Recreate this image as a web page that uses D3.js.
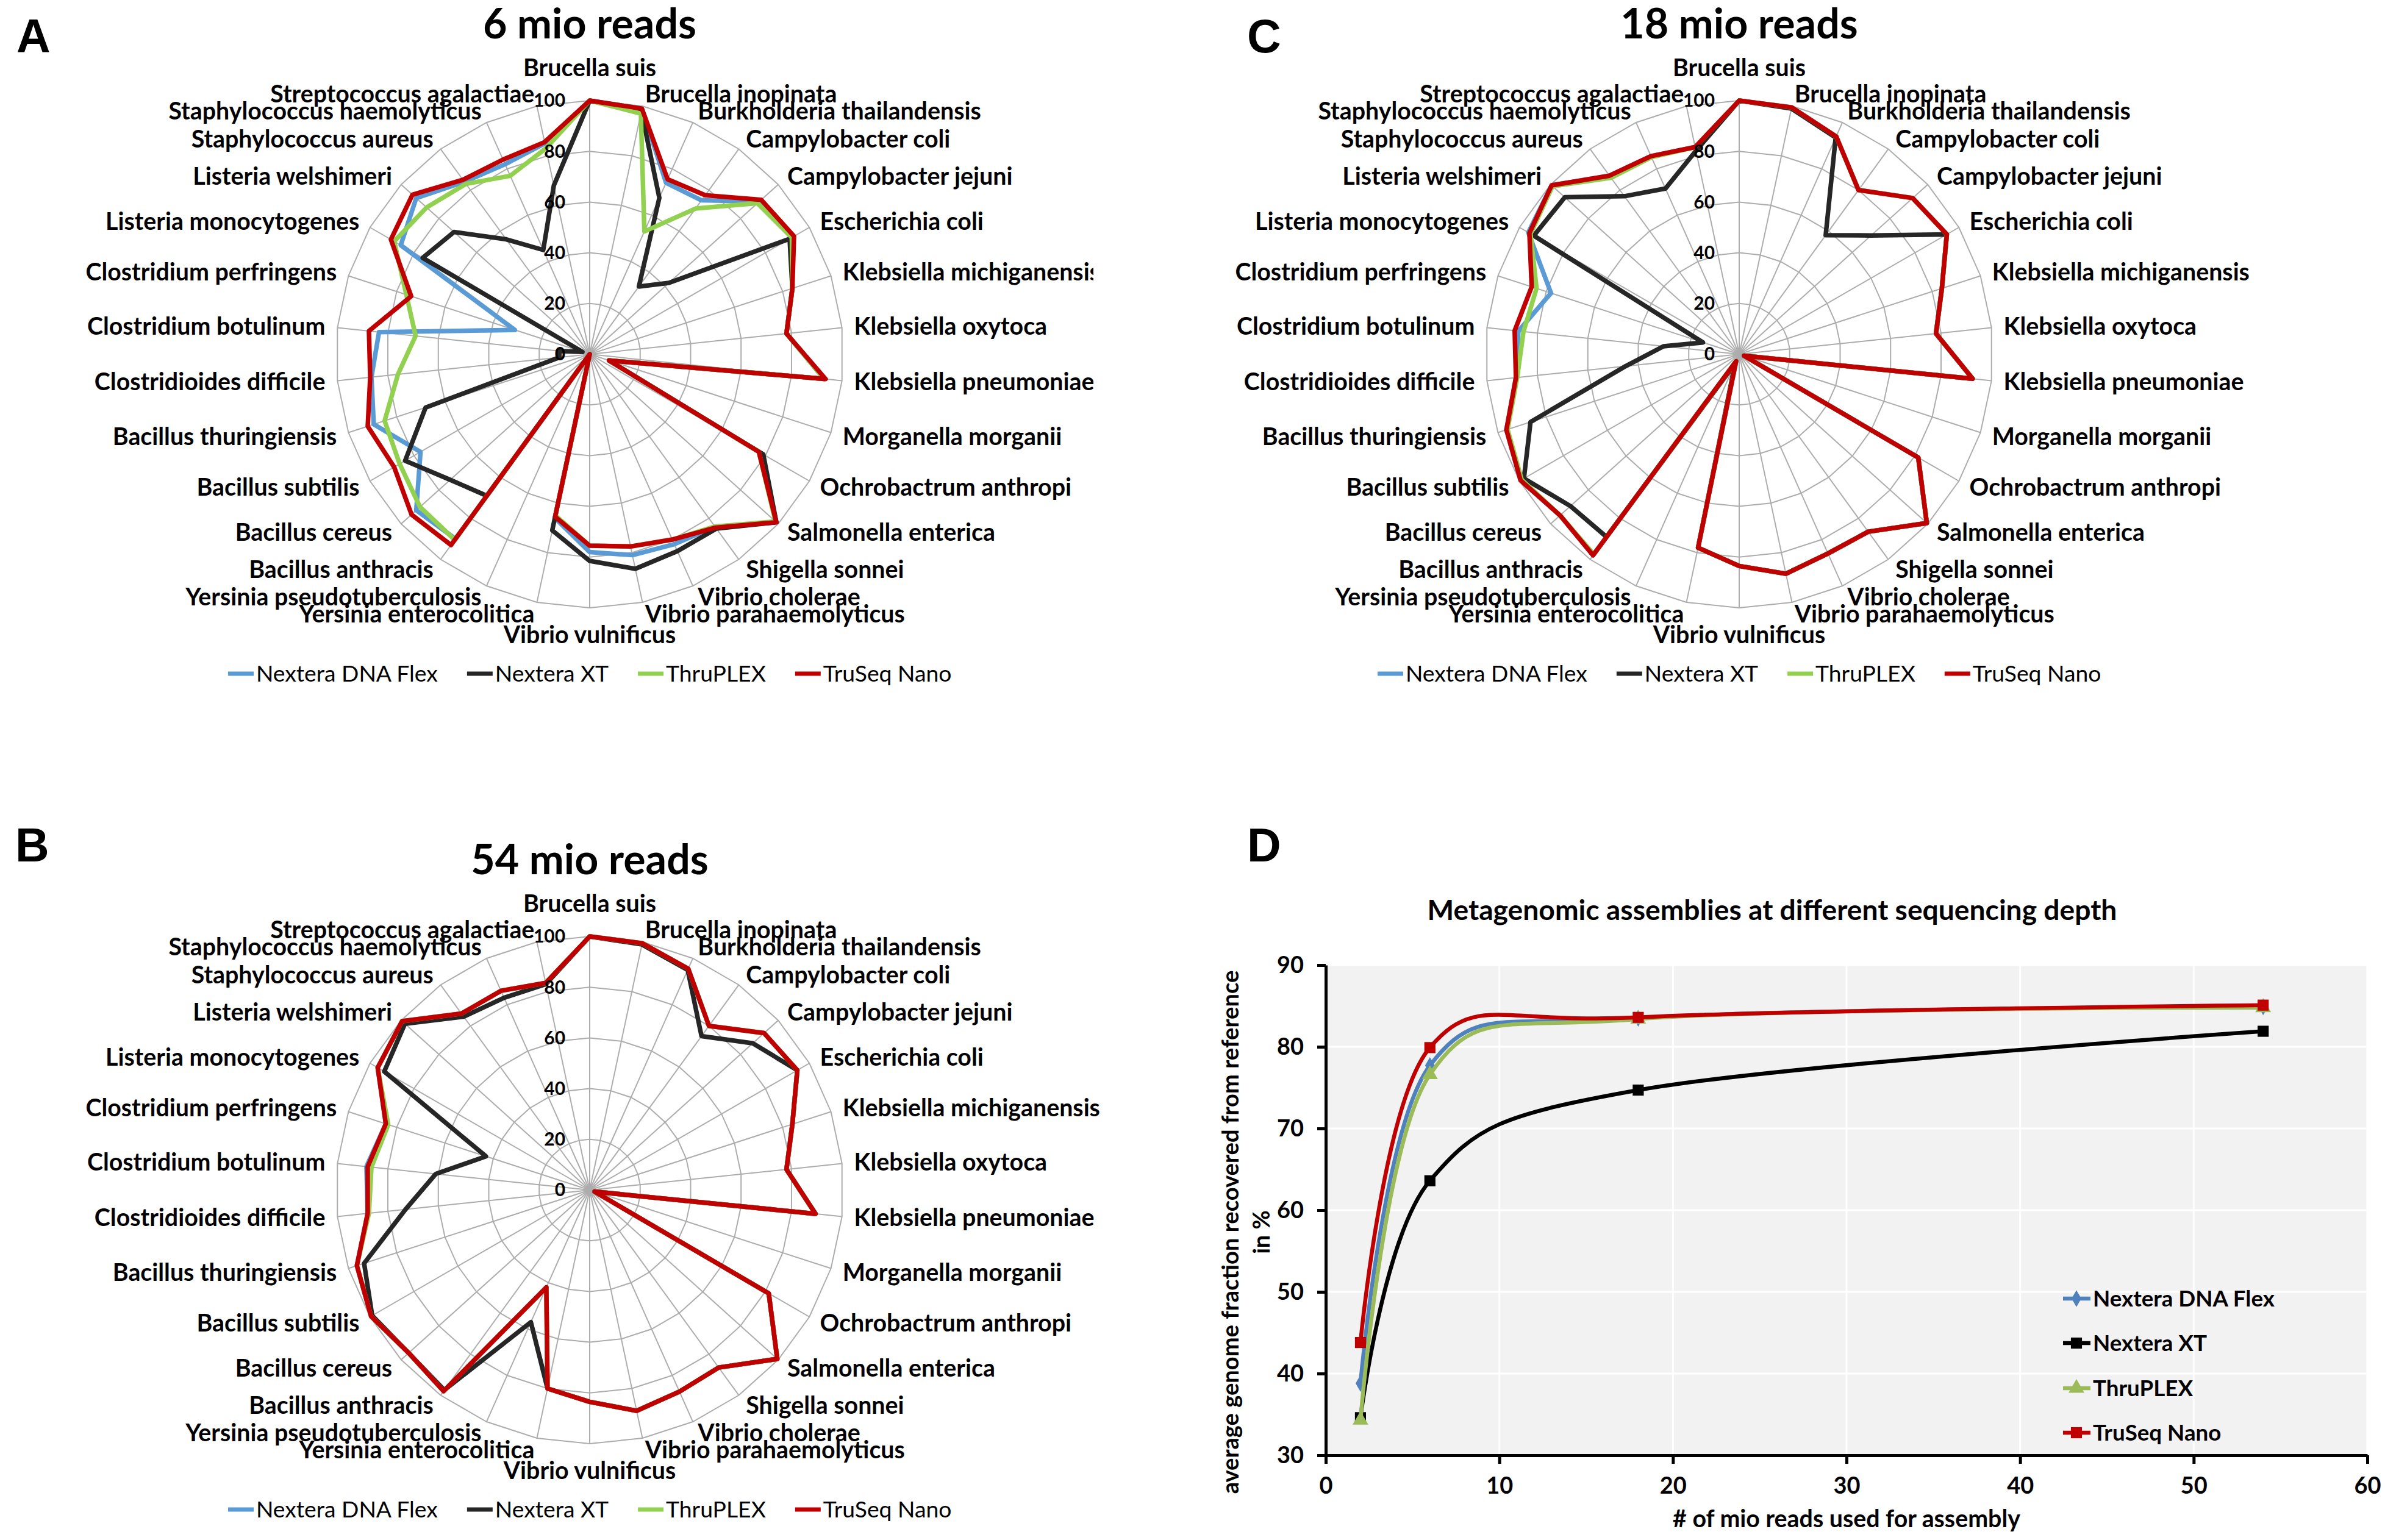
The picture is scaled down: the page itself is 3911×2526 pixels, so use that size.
<!DOCTYPE html>
<html>
<head>
<meta charset="utf-8">
<script src="https://cdn.jsdelivr.net/npm/d3@7"></script>
<style>
  body { margin: 0; background: #fff; }
</style>
</head>
<body>
<script>
// species on the radar axes, clockwise from the top
var categories = ["Brucella suis", "Brucella inopinata", "Burkholderia thailandensis", "Campylobacter coli",
  "Campylobacter jejuni", "Escherichia coli", "Klebsiella michiganensis", "Klebsiella oxytoca",
  "Klebsiella pneumoniae", "Morganella morganii", "Ochrobactrum anthropi", "Salmonella enterica",
  "Shigella sonnei", "Vibrio cholerae", "Vibrio parahaemolyticus", "Vibrio vulnificus",
  "Yersinia enterocolitica", "Yersinia pseudotuberculosis", "Bacillus anthracis", "Bacillus cereus",
  "Bacillus subtilis", "Bacillus thuringiensis", "Clostridioides difficile", "Clostridium botulinum",
  "Clostridium perfringens", "Listeria monocytogenes", "Listeria welshimeri", "Staphylococcus aureus",
  "Staphylococcus haemolyticus", "Streptococcus agalactiae"];

var seriesNames = ["Nextera DNA Flex", "Nextera XT", "ThruPLEX", "TruSeq Nano"];
var radialTicks = [0, 20, 40, 60, 80, 100];

// 6 mio reads
var flex6   = [100, 99, 74, 75, 90, 92, 84, 78, 93, 8, 77, 99, 84, 82, 81, 78, 66, 0, 90, 92, 77, 89.5, 86.5, 83.5, 31, 86, 92, 84, 82, 85];
var xt6     = [100, 98, 67.5, 33, 42, 91, 84, 78, 93, 8, 79, 99, 85, 85, 86.5, 81.5, 71, 0, 69, 74, 84, 68, 12, 12, 3, 76, 72, 56, 45, 68];
var thru6   = [100, 97, 53, 71, 89, 92, 84, 78, 93, 8, 77, 98.5, 84, 80, 77.5, 75.5, 65, 0, 90.5, 90, 86.5, 85, 76, 69, 76, 89, 86.5, 83, 77, 83];
var truseq6 = [100, 99, 75.5, 77.5, 91, 93, 84, 78, 93.5, 8, 77, 99, 84.5, 80, 77.5, 75.5, 65.5, 0, 93, 94.5, 89, 92, 87, 87.5, 74, 90.5, 94, 85, 84, 85.5];

// 18 mio reads
var flex18   = [100, 99.5, 94, 80, 92, 94.5, 84, 78, 92.5, 2, 81.5, 99.5, 86.5, 86, 88.5, 83.5, 78, 3, 98, 95, 99.5, 96.5, 88.5, 87.5, 78, 96, 99.5, 87, 85.5, 83.5];
var xt18     = [100, 99, 93.5, 58, 70, 94.5, 84, 78, 92.5, 2, 81.5, 99.5, 86.5, 86, 88.5, 83.5, 78, 4, 89, 89.5, 98, 86.5, 45, 30, 15, 93.5, 92.5, 77, 71.5, 82];
var thru18   = [100, 99.5, 94, 80, 92, 94.5, 84, 78, 92.5, 2, 81.5, 99.5, 86.5, 86, 88.5, 83.5, 78, 3, 97.5, 95, 99, 96, 88, 85.5, 84, 95, 99, 86, 85, 83.5];
var truseq18 = [100, 99.5, 94, 80, 92, 94.5, 84, 78, 92.5, 2, 81.5, 99.5, 86.5, 86, 88.5, 83.5, 78, 3, 98, 95, 99.5, 96.5, 88.5, 89, 86, 95.5, 99.5, 87, 85.5, 83.5];

// 54 mio reads
var flex54   = [100, 99.5, 95.5, 80, 92.5, 94.5, 84, 78, 89.5, 2, 81.5, 99.5, 86.5, 87, 89, 83.5, 80, 42, 98, 96, 99.5, 96.5, 88, 88.5, 84.5, 96.5, 99.5, 86, 86, 83.5];
var xt54     = [100, 99, 95, 75, 86.5, 94.5, 84, 78, 89.5, 2, 81.5, 99.5, 86.5, 87, 89, 83.5, 80, 57, 97.5, 96, 99, 93.5, 73, 61, 43, 93.5, 98, 84.5, 83, 83];
var thru54   = [100, 99.5, 95.5, 80, 92.5, 94.5, 84, 78, 89.5, 2, 81.5, 99.5, 86.5, 87, 89, 83.5, 80, 42, 98, 96, 99.5, 96.5, 87.5, 86.5, 83.5, 96.5, 99.5, 86, 86, 83.5];
var truseq54 = [100, 99.5, 95.5, 80, 92.5, 94.5, 84, 78, 89.5, 2, 81.5, 99.5, 86.5, 87, 89, 83.5, 80, 42, 98, 96, 99.5, 96.5, 88, 88, 84.5, 96.5, 99.5, 86, 86, 83.5];

// panel D: genome fraction vs sequencing depth
var depthReads   = [2, 6, 18, 54];
var flexDepth    = [38.8, 77.7, 83.5, 84.9];
var xtDepth      = [34.6, 63.6, 74.7, 81.9];
var thruDepth    = [34.3, 76.6, 83.4, 84.8];
var truseqDepth  = [43.8, 79.9, 83.6, 85.1];
var depthTicksX  = [0, 10, 20, 30, 40, 50, 60];
var depthTicksY  = [30, 40, 50, 60, 70, 80, 90];

var radarColors = ["#5b9bd5", "#262626", "#92d050", "#c00000"];
var lineColors  = ["#4f81bd", "#000000", "#9bbb59", "#c00000"];
var symbols     = [d3.symbolDiamond, d3.symbolSquare, d3.symbolTriangle, d3.symbolSquare];
var symbolSizes = [220, 330, 290, 330];

var FONT = "Lato, 'Open Sans', sans-serif";

var svg = d3.select("body").append("svg")
  .attr("width", 3911)
  .attr("height", 2526)
  .style("display", "block");

svg.append("rect").attr("width", 3911).attr("height", 2526).attr("fill", "#fff");

// pick a font size so a reference string gets the width it has in the figure
function fitSize(text, weight, target) {
  var t = svg.append("text")
    .attr("font-family", FONT)
    .attr("font-weight", weight)
    .attr("font-size", 100)
    .text(text);
  var w = t.node().getComputedTextLength();
  t.remove();
  return 100 * target / w;
}

var labelSize   = fitSize("Klebsiella pneumoniae", "bold", 394);
var rTickSize   = fitSize("100", "bold", 52);
var titleSize   = fitSize("6 mio reads", "bold", 350);
var legendSize  = fitSize("Nextera DNA Flex", "normal", 298);

svg.append("defs").append("clipPath").attr("id", "clipA")
  .append("rect").attr("x", 0).attr("y", 0).attr("width", 1793).attr("height", 1300);

function drawRadar(cx, cy, title, data, clip) {
  var g = svg.append("g");
  if (clip) g.attr("clip-path", "url(#" + clip + ")");

  var r = d3.scaleLinear().domain([0, 100]).range([0, 416]);
  var a = d3.scaleLinear().domain([0, categories.length]).range([0, 2 * Math.PI]);
  var inner = g.append("g").attr("transform", "translate(" + cx + "," + cy + ")");

  // grid rings
  inner.selectAll("path.ring")
    .data(radialTicks.slice(1))
    .join("path")
      .attr("class", "ring")
      .attr("d", function(t) {
        return d3.lineRadial()
          .angle(function(d, i) { return a(i); })
          .radius(r(t))
          .curve(d3.curveLinearClosed)(categories);
      })
      .attr("fill", "none")
      .attr("stroke", "#adadad")
      .attr("stroke-width", 2);

  // spokes
  inner.selectAll("line.spoke")
    .data(categories)
    .join("line")
      .attr("class", "spoke")
      .attr("x1", 0).attr("y1", 0)
      .attr("x2", function(d, i) { return r(100) * Math.sin(a(i)); })
      .attr("y2", function(d, i) { return -r(100) * Math.cos(a(i)); })
      .attr("stroke", "#adadad")
      .attr("stroke-width", 2);

  // series
  var radial = d3.lineRadial()
    .angle(function(d, i) { return a(i); })
    .radius(function(d) { return r(d); })
    .curve(d3.curveLinearClosed);

  data.forEach(function(vals, s) {
    inner.append("path")
      .attr("d", radial(vals))
      .attr("fill", "none")
      .attr("stroke", radarColors[s])
      .attr("stroke-width", 7.5)
      .attr("stroke-linejoin", "round");
  });

  // radial value labels
  inner.selectAll("text.rtick")
    .data(radialTicks)
    .join("text")
      .attr("class", "rtick")
      .attr("x", -40)
      .attr("y", function(d) { return -r(d); })
      .attr("dy", "0.35em")
      .attr("text-anchor", "end")
      .attr("font-family", FONT)
      .attr("font-weight", "bold")
      .attr("font-size", rTickSize)
      .text(function(d) { return d; });

  // category labels
  var L = 436;
  inner.selectAll("text.cat")
    .data(categories)
    .join("text")
      .attr("class", "cat")
      .each(function(d, i) {
        var th = a(i), sn = Math.sin(th), cs = Math.cos(th);
        var t = d3.select(this);
        if (Math.abs(sn) < 1e-6) {
          t.attr("x", 0)
           .attr("y", cs > 0 ? -L - 20 : L + 38)
           .attr("text-anchor", "middle");
        } else {
          t.attr("x", L * sn)
           .attr("y", -L * cs)
           .attr("dy", "0.35em")
           .attr("text-anchor", sn > 0 ? "start" : "end");
        }
      })
      .attr("font-family", FONT)
      .attr("font-weight", "bold")
      .attr("font-size", labelSize)
      .text(function(d) { return d; });

  // title
  g.append("text")
    .attr("x", cx)
    .attr("y", cy - 518)
    .attr("text-anchor", "middle")
    .attr("font-family", FONT)
    .attr("font-weight", "bold")
    .attr("font-size", titleSize)
    .text(title);

  // legend
  var lx = cx - 593, ly = cy + 524;
  seriesNames.forEach(function(name, s) {
    g.append("line")
      .attr("x1", lx).attr("x2", lx + 42)
      .attr("y1", ly).attr("y2", ly)
      .attr("stroke", radarColors[s])
      .attr("stroke-width", 7);
    var t = g.append("text")
      .attr("x", lx + 46)
      .attr("y", ly)
      .attr("dy", "0.35em")
      .attr("font-family", FONT)
      .attr("font-size", legendSize)
      .text(name);
    lx += 46 + t.node().getComputedTextLength() + 48;
  });
}

drawRadar(967, 581, "6 mio reads", [flex6, xt6, thru6, truseq6], "clipA");
drawRadar(2852, 581, "18 mio reads", [flex18, xt18, thru18, truseq18]);
drawRadar(967, 1952, "54 mio reads", [flex54, xt54, thru54, truseq54]);

// panel letters
[["A", 27, 86], ["C", 2045, 86], ["B", 25, 1413], ["D", 2045, 1413]].forEach(function(p) {
  svg.append("text")
    .attr("x", p[1]).attr("y", p[2])
    .attr("font-family", "'Liberation Sans', Arial, sans-serif")
    .attr("font-weight", "bold")
    .attr("font-size", 77)
    .text(p[0]);
});

// ---- panel D ----
var x = d3.scaleLinear().domain([0, 60]).range([2174, 3882]);
var y = d3.scaleLinear().domain([30, 90]).range([2387, 1583]);

var dTitleSize  = fitSize("Metagenomic assemblies at different sequencing depth", "bold", 1131);
var dTickSize   = fitSize("90", "bold", 44);
var dXTitleSize = fitSize("# of mio reads used for assembly", "bold", 570);
var dYTitleSize = fitSize("average genome fraction recovered from reference", "bold", 859);
var dLegendSize = fitSize("Nextera DNA Flex", "bold", 298);

var d = svg.append("g");

d.append("rect")
  .attr("x", x(0)).attr("y", y(90))
  .attr("width", x(60) - x(0)).attr("height", y(30) - y(90))
  .attr("fill", "#f2f2f2");

d.selectAll("line.hgrid")
  .data(depthTicksY.slice(1))
  .join("line")
    .attr("x1", x(0)).attr("x2", x(60))
    .attr("y1", function(v) { return y(v); }).attr("y2", function(v) { return y(v); })
    .attr("stroke", "#fff").attr("stroke-width", 3);

d.selectAll("line.vgrid")
  .data(depthTicksX.slice(1))
  .join("line")
    .attr("y1", y(30)).attr("y2", y(90))
    .attr("x1", function(v) { return x(v); }).attr("x2", function(v) { return x(v); })
    .attr("stroke", "#fff").attr("stroke-width", 3);

var yAxis = d.append("g")
  .attr("transform", "translate(" + x(0) + ",0)")
  .call(d3.axisLeft(y).tickValues(depthTicksY).tickSize(14).tickSizeOuter(0).tickPadding(22));
var xAxis = d.append("g")
  .attr("transform", "translate(0," + y(30) + ")")
  .call(d3.axisBottom(x).tickValues(depthTicksX).tickSize(14).tickSizeOuter(0).tickPadding(22));

[yAxis, xAxis].forEach(function(ax) {
  ax.select(".domain").attr("stroke", "#000").attr("stroke-width", 5);
  ax.selectAll(".tick line").attr("stroke", "#000").attr("stroke-width", 5);
  ax.selectAll(".tick text")
    .attr("font-family", FONT)
    .attr("font-weight", "bold")
    .attr("font-size", dTickSize)
    .attr("fill", "#000");
});

var curve = d3.line()
  .x(function(v, i) { return x(depthReads[i]); })
  .y(function(v) { return y(v); })
  .curve(d3.curveCatmullRom.alpha(0));

[flexDepth, xtDepth, thruDepth, truseqDepth].forEach(function(vals, s) {
  d.append("path")
    .attr("d", curve(vals))
    .attr("fill", "none")
    .attr("stroke", lineColors[s])
    .attr("stroke-width", 6.5);
  d.selectAll("path.m" + s)
    .data(vals)
    .join("path")
      .attr("class", "m" + s)
      .attr("transform", function(v, i) { return "translate(" + x(depthReads[i]) + "," + y(v) + ")"; })
      .attr("d", d3.symbol().type(symbols[s]).size(symbolSizes[s]))
      .attr("fill", lineColors[s]);
});

// legend inside plot
var legY = [2130, 2203, 2277, 2350];
seriesNames.forEach(function(name, s) {
  d.append("line")
    .attr("x1", 3383).attr("x2", 3428)
    .attr("y1", legY[s]).attr("y2", legY[s])
    .attr("stroke", lineColors[s]).attr("stroke-width", 6.5);
  d.append("path")
    .attr("transform", "translate(3405," + legY[s] + ")")
    .attr("d", d3.symbol().type(symbols[s]).size(symbolSizes[s]))
    .attr("fill", lineColors[s]);
  d.append("text")
    .attr("x", 3432).attr("y", legY[s])
    .attr("dy", "0.35em")
    .attr("font-family", FONT)
    .attr("font-weight", "bold")
    .attr("font-size", dLegendSize)
    .text(name);
});

d.append("text")
  .attr("x", 2906).attr("y", 1509)
  .attr("text-anchor", "middle")
  .attr("font-family", FONT)
  .attr("font-weight", "bold")
  .attr("font-size", dTitleSize)
  .text("Metagenomic assemblies at different sequencing depth");

d.append("text")
  .attr("x", x(30)).attr("y", 2505)
  .attr("text-anchor", "middle")
  .attr("font-family", FONT)
  .attr("font-weight", "bold")
  .attr("font-size", dXTitleSize)
  .text("# of mio reads used for assembly");

var yt = d.append("text")
  .attr("transform", "translate(2031,2021) rotate(-90)")
  .attr("text-anchor", "middle")
  .attr("font-family", FONT)
  .attr("font-weight", "bold")
  .attr("font-size", dYTitleSize);
yt.append("tspan").attr("x", 0).attr("y", 0).text("average genome fraction recovered from reference");
yt.append("tspan").attr("x", 0).attr("y", 51).text("in %");
</script>
</body>
</html>
